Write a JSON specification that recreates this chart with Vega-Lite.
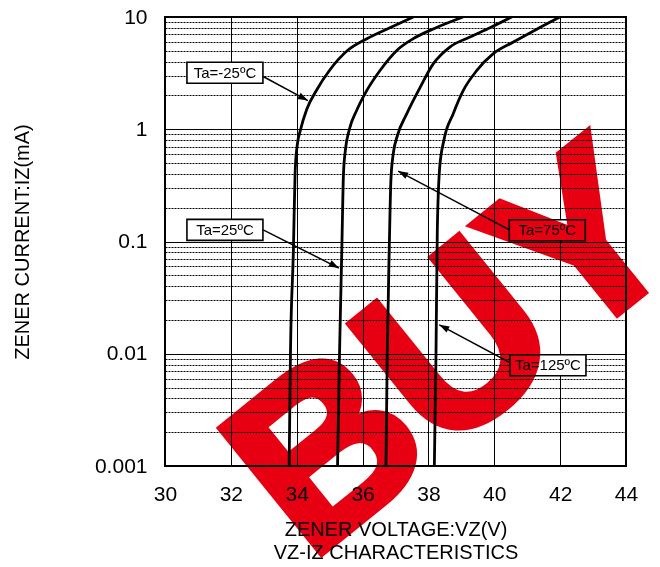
{
  "$schema": "https://vega.github.io/schema/vega-lite/v6.json",
  "width": 461,
  "height": 449,
  "autosize": {"type": "none"},
  "padding": {"left": 165, "top": 17, "right": 34, "bottom": 101},
  "background": "white",
  "config": {
    "font": "Liberation Sans",
    "view": {"stroke": "#000", "strokeWidth": 2},
    "axis": {
      "domain": false,
      "ticks": false,
      "labelFont": "Liberation Sans",
      "labelFontSize": 21,
      "labelColor": "#000",
      "titleFont": "Liberation Sans",
      "titleFontSize": 20,
      "titleFontWeight": "normal",
      "titleColor": "#000"
    }
  },
  "datasets": {
    "curves": [
      {"ta": "-25", "v": 33.77, "i": 0.001},
      {"ta": "-25", "v": 33.81, "i": 0.01},
      {"ta": "-25", "v": 33.90, "i": 0.085},
      {"ta": "-25", "v": 33.95, "i": 0.4},
      {"ta": "-25", "v": 34.01, "i": 0.7},
      {"ta": "-25", "v": 34.12, "i": 1.0},
      {"ta": "-25", "v": 34.30, "i": 1.49},
      {"ta": "-25", "v": 34.61, "i": 2.25},
      {"ta": "-25", "v": 35.01, "i": 3.39},
      {"ta": "-25", "v": 35.55, "i": 5.05},
      {"ta": "-25", "v": 36.13, "i": 6.41},
      {"ta": "-25", "v": 36.83, "i": 8.03},
      {"ta": "-25", "v": 37.54, "i": 10},
      {"ta": "25", "v": 35.24, "i": 0.001},
      {"ta": "25", "v": 35.30, "i": 0.01},
      {"ta": "25", "v": 35.37, "i": 0.085},
      {"ta": "25", "v": 35.42, "i": 0.4},
      {"ta": "25", "v": 35.48, "i": 0.66},
      {"ta": "25", "v": 35.60, "i": 1.0},
      {"ta": "25", "v": 35.82, "i": 1.47},
      {"ta": "25", "v": 36.13, "i": 2.22},
      {"ta": "25", "v": 36.53, "i": 3.34},
      {"ta": "25", "v": 37.04, "i": 5.04},
      {"ta": "25", "v": 37.54, "i": 6.41},
      {"ta": "25", "v": 38.20, "i": 7.95},
      {"ta": "25", "v": 39.05, "i": 10},
      {"ta": "75", "v": 36.71, "i": 0.001},
      {"ta": "75", "v": 36.75, "i": 0.01},
      {"ta": "75", "v": 36.81, "i": 0.085},
      {"ta": "75", "v": 36.86, "i": 0.35},
      {"ta": "75", "v": 36.93, "i": 0.6},
      {"ta": "75", "v": 37.06, "i": 0.88},
      {"ta": "75", "v": 37.34, "i": 1.37},
      {"ta": "75", "v": 37.74, "i": 2.34},
      {"ta": "75", "v": 38.15, "i": 3.84},
      {"ta": "75", "v": 38.65, "i": 5.40},
      {"ta": "75", "v": 39.26, "i": 6.63},
      {"ta": "75", "v": 39.87, "i": 8.03},
      {"ta": "75", "v": 40.53, "i": 10},
      {"ta": "125", "v": 38.18, "i": 0.001},
      {"ta": "125", "v": 38.23, "i": 0.01},
      {"ta": "125", "v": 38.27, "i": 0.127},
      {"ta": "125", "v": 38.34, "i": 0.45},
      {"ta": "125", "v": 38.47, "i": 0.8},
      {"ta": "125", "v": 38.75, "i": 1.37},
      {"ta": "125", "v": 39.06, "i": 2.22},
      {"ta": "125", "v": 39.47, "i": 3.34},
      {"ta": "125", "v": 39.97, "i": 4.71},
      {"ta": "125", "v": 40.58, "i": 5.98},
      {"ta": "125", "v": 41.29, "i": 7.79},
      {"ta": "125", "v": 41.99, "i": 10}
    ],
    "notes": [
      {"ta": "-25", "label": "Ta=-25ºC", "bx": 31.82, "by": 3.19, "x1": 32.98, "y1": 2.95, "x2": 34.34, "y2": 1.80},
      {"ta": "25", "label": "Ta=25ºC", "bx": 31.82, "by": 0.127, "x1": 32.98, "y1": 0.127, "x2": 35.28, "y2": 0.058},
      {"ta": "75", "label": "Ta=75ºC", "bx": 41.61, "by": 0.126, "x1": 40.46, "y1": 0.127, "x2": 37.08, "y2": 0.424},
      {"ta": "125", "label": "Ta=125ºC", "bx": 41.63, "by": 0.0079, "x1": 40.51, "y1": 0.00824, "x2": 38.33, "y2": 0.0181}
    ],
    "watermark": [
      {"text": "BUY", "v": 38.84, "i": 0.00998}
    ]
  },
  "layer": [
    {
      "data": {"name": "curves"},
      "mark": {"type": "line", "color": "#000", "strokeWidth": 2.8, "interpolate": "monotone"},
      "encoding": {
        "x": {
          "field": "v",
          "type": "quantitative",
          "scale": {"domain": [30, 44], "nice": false, "zero": false},
          "axis": {
            "values": [30, 30.5, 31, 31.5, 32, 32.5, 33, 33.5, 34, 34.5, 35, 35.5, 36, 36.5, 37, 37.5, 38, 38.5, 39, 39.5, 40, 40.5, 41, 41.5, 42, 42.5, 43, 43.5, 44],
            "labelExpr": "datum.value % 2 === 0 ? datum.label : ''",
            "labelOverlap": false,
            "labelFlush": false,
            "labelPadding": 17,
            "gridColor": "#000",
            "gridWidth": 1,
            "gridDash": {"condition": {"test": "datum.value % 2 !== 0", "value": [2, 1]}, "value": []},
            "title": ["ZENER VOLTAGE:VZ(V)", "VZ-IZ CHARACTERISTICS"],
            "titlePadding": 15,
            "titleLineHeight": 23.5
          }
        },
        "y": {
          "field": "i",
          "type": "quantitative",
          "scale": {"type": "log", "domain": [0.001, 10], "nice": false},
          "axis": {
            "values": [0.001, 0.002, 0.003, 0.004, 0.005, 0.006, 0.007, 0.008, 0.009, 0.01, 0.02, 0.03, 0.04, 0.05, 0.06, 0.07, 0.08, 0.09, 0.1, 0.2, 0.3, 0.4, 0.5, 0.6, 0.7, 0.8, 0.9, 1, 2, 3, 4, 5, 6, 7, 8, 9, 10],
            "labelExpr": "abs(log(datum.value)/LN10 - round(log(datum.value)/LN10)) < 0.001 ? format(datum.value, '~g') : ''",
            "labelOverlap": false,
            "labelFlush": false,
            "labelPadding": 18,
            "gridColor": "#000",
            "gridWidth": 1,
            "gridDash": {"condition": {"test": "abs(log(datum.value)/LN10 - round(log(datum.value)/LN10)) > 0.001", "value": [2, 1]}, "value": []},
            "title": "ZENER CURRENT:IZ(mA)",
            "titlePadding": 62
          }
        },
        "detail": {"field": "ta", "type": "nominal"},
        "order": {"field": "i", "type": "quantitative"}
      }
    },
    {
      "data": {"name": "notes"},
      "mark": {"type": "rule", "color": "#000", "strokeWidth": 1.5},
      "encoding": {
        "x": {"field": "x1", "type": "quantitative"},
        "y": {"field": "y1", "type": "quantitative"},
        "x2": {"field": "x2"},
        "y2": {"field": "y2"}
      }
    },
    {
      "data": {"name": "notes"},
      "mark": {"type": "point", "shape": "M0,0L0.7,2L-0.7,2Z", "filled": true, "color": "#000", "size": 100, "opacity": 1},
      "encoding": {
        "x": {"field": "x2", "type": "quantitative"},
        "y": {"field": "y2", "type": "quantitative"},
        "angle": {"condition": {"test": "datum.x2 < datum.x1", "value": 298}, "value": 117.5}
      }
    },
    {
      "data": {"name": "notes"},
      "mark": {"type": "point", "shape": "M-1,-0.276L1,-0.276L1,0.276L-1,0.276Z", "filled": true, "fill": "#fff", "stroke": "#000", "strokeWidth": 1.6, "size": 5776, "opacity": 1},
      "encoding": {
        "x": {"field": "bx", "type": "quantitative"},
        "y": {"field": "by", "type": "quantitative"}
      }
    },
    {
      "data": {"name": "notes"},
      "mark": {"type": "text", "fontSize": 15, "color": "#000", "align": "center", "baseline": "middle", "font": "Liberation Sans"},
      "encoding": {
        "x": {"field": "bx", "type": "quantitative"},
        "y": {"field": "by", "type": "quantitative"},
        "text": {"field": "label"}
      }
    },
    {
      "data": {"name": "watermark"},
      "mark": {"type": "text", "fontSize": 232, "fontWeight": "bold", "font": "Liberation Sans", "fill": "#e60012", "stroke": "#e60012", "strokeWidth": 8, "strokeJoin": "miter", "align": "center", "baseline": "middle", "angle": -39, "blend": "multiply"},
      "encoding": {
        "x": {"field": "v", "type": "quantitative"},
        "y": {"field": "i", "type": "quantitative"},
        "text": {"field": "text"}
      }
    }
  ]
}
